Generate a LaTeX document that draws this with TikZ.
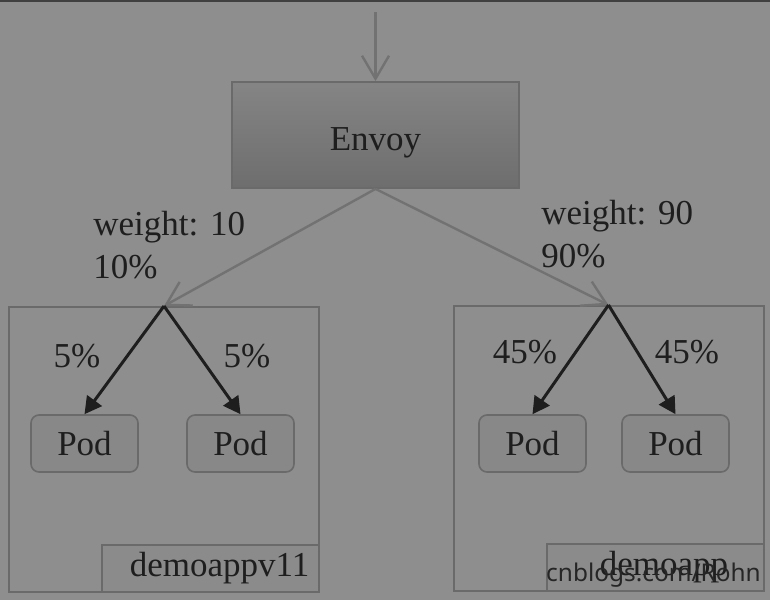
\documentclass[tikz,border=0pt]{standalone}
\usepackage{fontspec}
\setmainfont{Liberation Serif}
\newfontfamily\marksans{Noto Sans}
\usetikzlibrary{arrows.meta,positioning}

\definecolor{bggray}{HTML}{8E8E8E}
\definecolor{boxline}{HTML}{6A6A6A}
\definecolor{linegray}{HTML}{727272}
\definecolor{podfill}{HTML}{888888}
\definecolor{tagfill}{HTML}{8B8B8B}
\definecolor{inkdark}{HTML}{1E1E1E}
\definecolor{markink}{HTML}{262626}

\tikzset{
  envoybox/.style={draw=boxline, line width=0.9pt, top color=black!48, bottom color=black!57, minimum width=143.5pt, minimum height=53pt, text height=19pt, text depth=4pt},
  groupbox/.style={draw=boxline, line width=1pt, minimum width=155pt, minimum height=142.5pt, inner sep=0pt},
  tagbox/.style={draw=boxline, fill=tagfill, line width=1pt, minimum width=108.5pt, minimum height=23.5pt, anchor=south east, execute at begin node={\hspace*{9pt}}},
  podbox/.style={draw=boxline, fill=podfill, rounded corners=4pt, line width=0.8pt, minimum width=53.5pt, minimum height=28.5pt},
  split/.style={draw=linegray, line width=1.2pt, -{Straight Barb[length=11.5pt,width=13.5pt]}},
  share/.style={draw=inkdark, line width=1.5pt, -{Triangle[length=8.5pt,width=9pt]}},
  note/.style={text=inkdark, align=left, inner sep=0pt}
}

\begin{document}
\begin{tikzpicture}[x=0.5pt, y=-0.5pt, font=\fontsize{17.5}{21.5}\selectfont, text=inkdark]

\useasboundingbox (0,0) rectangle (770,600);
\fill [bggray] (0,0) rectangle (770,600);
\draw [black!75, line width=1pt] (0,1) -- (770,1);

%Envoy

\coordinate (entry) at (375.5,12);
\node [envoybox] (envoy) at (375.5,135) {Envoy};

%Service groups

\node [groupbox] (v11) at (164,449.5) {};
\node [tagbox] (tagv11) at (v11.south east) {demoappv11};

\node [groupbox] (main) at (608.5,448.5) {};
\node [tagbox] (tagmain) at (main.south east) {demoapp};

%Pods

\node [podbox] (pa) at (84.5,443.5) {Pod};
\node [podbox] (pb) at (240.5,443.5) {Pod};
\node [podbox] (pc) at (532.5,443.5) {Pod};
\node [podbox] (pd) at (675.5,443.5) {Pod};

%Traffic

\draw [split] (entry) -- (envoy.north);
\draw [split] (envoy.south) -- (v11.north);
\draw [split] (envoy.south) -- (main.north);

\draw [share] (v11.north) -- (pa.north);
\draw [share] (v11.north) -- (pb.north);
\draw [share] (main.north) -- (pc.north);
\draw [share] (main.north) -- (pd.north);

%Weights

\node [note, anchor=north west] (w10) at (93,211) {weight: 10\\10\%};
\node [note, anchor=north west] (w90) at (541,200) {weight: 90\\90\%};

\node [note] (pa5) at (77,356) {5\%};
\node [note] (pb5) at (247,356) {5\%};
\node [note] (pc45) at (525,352) {45\%};
\node [note] (pd45) at (687,352) {45\%};

%Watermark

\node [font=\marksans\fontsize{12.2}{13}\selectfont, text=markink] (mark) at (653.5,575) {cnblogs.com/Rohn};

\end{tikzpicture}
\end{document}
